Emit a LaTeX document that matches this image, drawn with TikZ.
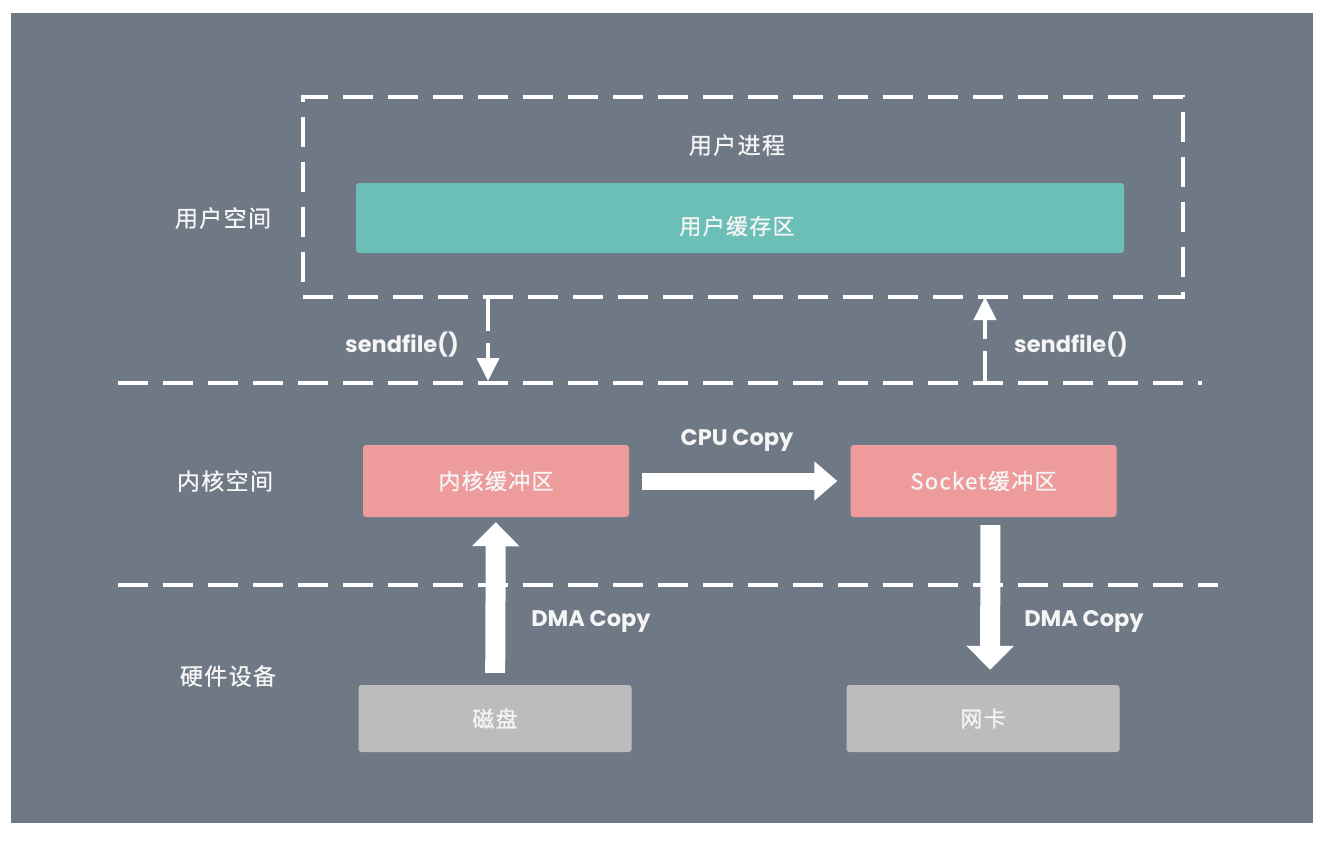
\documentclass[tikz,border=0pt]{standalone}
\usepackage{fontspec}
\setmainfont{Poppins}
\newfontfamily\cjk{Noto Sans CJK SC}[LetterSpace=6,FakeBold=0.8]
\usetikzlibrary{arrows.meta}
\definecolor{bgc}{HTML}{6F7885}
\definecolor{tealc}{HTML}{6BBFB6}
\definecolor{pinkc}{HTML}{EE9B9C}
\definecolor{grayc}{HTML}{BCBCBC}
\definecolor{txtc}{HTML}{F5F5F5}
\begin{document}
\begin{tikzpicture}[x=1pt,y=-1pt,
  dline/.style={draw=white, line width=4pt, dash pattern=on 30pt off 15pt},
  ubox/.style={draw=white, line width=4pt, dash pattern=on 30pt off 15pt, minimum width=880pt, minimum height=200pt, inner sep=0pt},
  boxbase/.style={rounded corners=3pt, inner sep=0pt, text=txtc, font=\cjk\fontsize{22}{26}\selectfont},
  tealbox/.style={boxbase, fill=tealc, minimum width=768pt, minimum height=70pt},
  pinkbox/.style={boxbase, fill=pinkc, minimum width=266pt, minimum height=72pt},
  graybox/.style={boxbase, fill=grayc, minimum width=273pt, minimum height=67pt},
  side/.style={text=txtc, font=\cjk\fontsize{23}{26}\selectfont, inner sep=0pt},
  lbl/.style={text=txtc, font=\bfseries\fontsize{22.5}{26}\selectfont, inner sep=0pt},
  bigarr/.style={draw=white, line width=20pt, -{Triangle[length=24pt,width=46pt]}},
  cpuarr/.style={draw=white, line width=17pt, -{Triangle[length=23pt,width=38pt]}},
  sendarr/.style={draw=white, line width=4pt, dash pattern=on 32pt off 12pt, -{Triangle[length=23pt,width=22pt]}}
]
\useasboundingbox (0,0) rectangle (1332,841);
\fill[white] (0,0) rectangle (1332,841);
\fill[bgc] (11,13) rectangle (1313,823);

% user process box
\node[ubox] (proc) at (743,197) {};
\node[side] (proct) at (737,145) {用户进程};
\node[tealbox] (ubuf) at (740,218) {};
\node[side, font=\cjk\fontsize{22}{26}\selectfont] (ubuft) at (737,226) {用户缓存区};

% separators
\coordinate (l1a) at (118,383);
\coordinate (l1b) at (1202,383);
\coordinate (l2a) at (118,585);
\coordinate (l2b) at (1218,585);
\draw[dline] (l1a) -- (l1b);
\draw[dline] (l2a) -- (l2b);

% side labels
\node[side] (us) at (223,218) {用户空间};
\node[side] (ks) at (225,481) {内核空间};
\node[side] (hw) at (228,676) {硬件设备};

% kernel buffers
\node[pinkbox] (kbuf) at (496,481) {内核缓冲区};
\node[pinkbox] (sbuf) at (983.5,481) {Socket缓冲区};

% hardware
\node[graybox] (disk) at (495,718.5) {磁盘};
\node[graybox] (nic) at (983,718.5) {网卡};

% sendfile arrows
\coordinate (s1) at (488,381);
\coordinate (s2) at (985,383);
\draw[sendarr] (proc.south -| s1) -- (s1);
\draw[sendarr] (s2) -- ([yshift=2pt]proc.south -| s2);
\node[lbl] (sf1) at (402,345) {sendfile()};
\node[lbl] (sf2) at (1071,345) {sendfile()};

% CPU copy
\draw[cpuarr, shorten <=13pt, shorten >=13pt] (kbuf) -- (sbuf);
\node[lbl] (cpu) at (737,440) {CPU Copy};

% DMA copies
\draw[bigarr, shorten <=12pt, shorten >=5pt] (disk) -- (kbuf);
\node[lbl] (dma1) at (591,621) {DMA Copy};
\draw[bigarr, shorten <=8pt, shorten >=15pt] ([xshift=7pt]sbuf.south) -- ([xshift=7pt]nic.north);
\node[lbl] (dma2) at (1084,621) {DMA Copy};
\end{tikzpicture}
\end{document}
